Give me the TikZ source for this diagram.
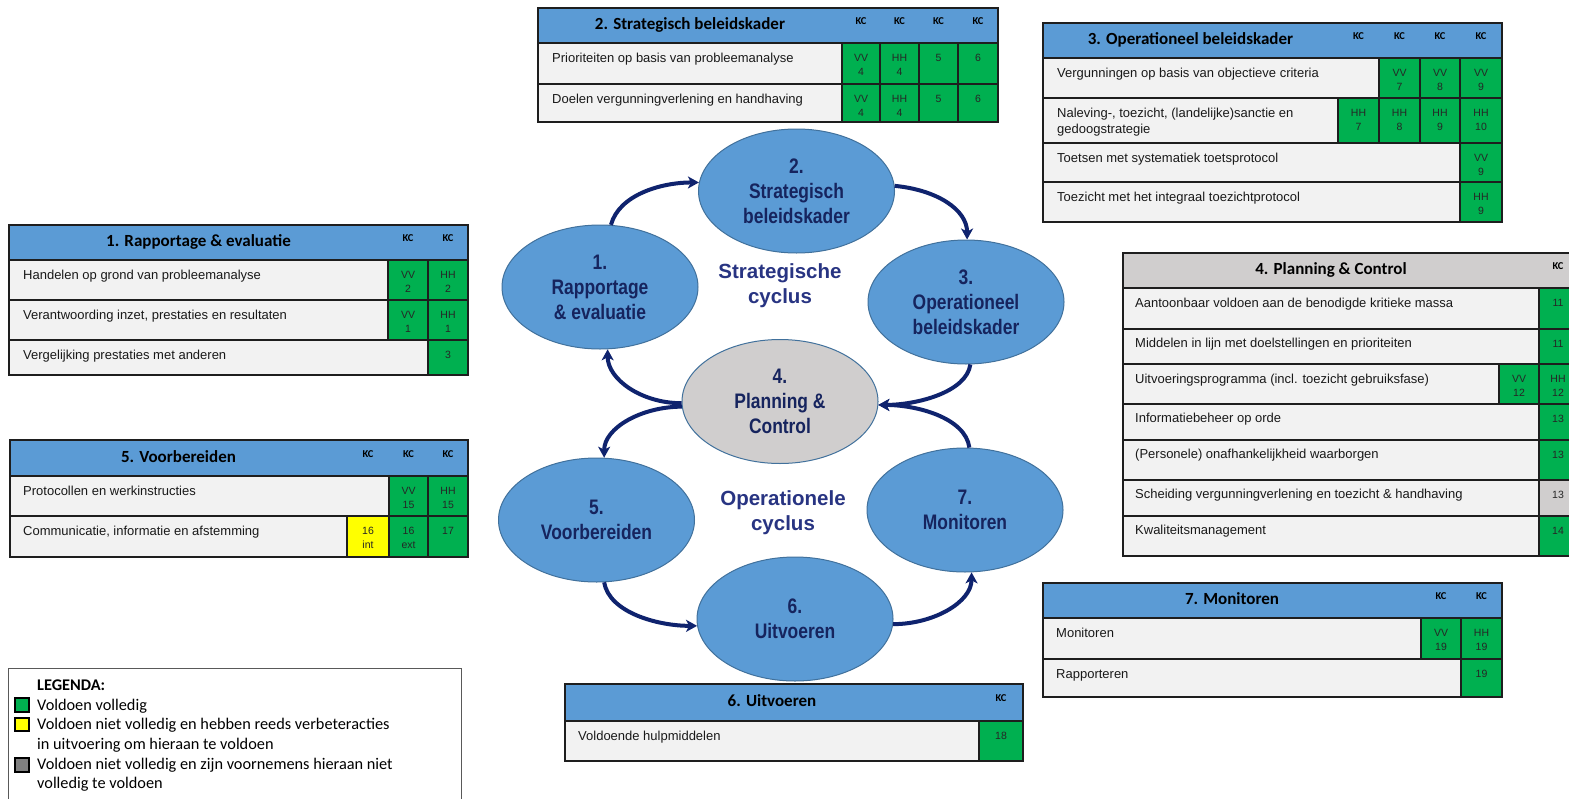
\documentclass[tikz,border=0pt]{standalone}
\usepackage{fontspec}
\setmainfont{Liberation Sans}
\newfontfamily\calibrifam{Carlito}
\newfontfamily\narrowfam[FakeStretch=0.83]{Liberation Sans}
\usetikzlibrary{shapes.geometric,arrows.meta}
\definecolor{hdrblue}{RGB}{91,155,213}
\definecolor{rowgray}{RGB}{242,242,242}
\definecolor{kgreen}{RGB}{0,176,80}
\definecolor{kyellow}{RGB}{255,255,0}
\definecolor{cellgray}{RGB}{208,206,206}
\definecolor{bordc}{RGB}{30,30,30}
\definecolor{ellblue}{RGB}{91,155,213}
\definecolor{ellborder}{RGB}{65,113,156}
\definecolor{elltext}{RGB}{22,36,94}
\definecolor{arrownavy}{RGB}{15,35,110}
\definecolor{cyclabel}{RGB}{40,52,130}
\definecolor{leggray}{RGB}{128,128,128}
\newcommand\tabhfont{\calibrifam\bfseries\fontsize{17}{20}\selectfont}
\newcommand\tabkcfont{\calibrifam\bfseries\fontsize{10.5}{12}\selectfont}
\newcommand\tabbodyfont{\fontsize{13}{15}\selectfont}
\newcommand\tabcellfont{\fontsize{10.5}{12}\selectfont}
\newcommand\ellfont{\narrowfam\bfseries\fontsize{21}{25}\selectfont}
\newcommand\cycfont{\bfseries\fontsize{20.5}{25}\selectfont}
\newcommand\legfont{\calibrifam\fontsize{16.3}{20}\selectfont}
\newcommand\crect[5]{\path[#1] (#2,#3) rectangle (#4,#5);}
\newcommand\rtext[4]{\node[rowtext] (#1) at (#2,#3) {#4};}
\newcommand\cval[5]{\node[celltext] (#1a) at (#2,#3+18.5) {#4};\node[celltext] (#1b) at (#2,#3+32.5) {#5};}
\newcommand\cone[4]{\node[celltext] (#1) at (#2,#3+18.5) {#4};}
\newcommand\kclab[3]{\node[kclabel] (#1) at (#2,#3) {KC};}
\tikzset{
 hdr/.style={fill=hdrblue, draw=bordc, line width=1.6pt},
 hdrg/.style={fill=cellgray, draw=bordc, line width=1.6pt},
 rowc/.style={fill=rowgray, draw=bordc, line width=1.6pt},
 grn/.style={fill=kgreen, draw=bordc, line width=1.6pt},
 ylw/.style={fill=kyellow, draw=bordc, line width=1.6pt},
 gry/.style={fill=cellgray, draw=bordc, line width=1.6pt},
 htitle/.style={font=\tabhfont, inner sep=0, anchor=base},
 kclabel/.style={font=\tabkcfont, inner sep=0, anchor=base},
 rowtext/.style={font=\tabbodyfont, inner sep=0, anchor=base west, text=black!90},
 celltext/.style={font=\tabcellfont, inner sep=0, anchor=base, text=black!85},
 phase/.style={ellipse, draw=ellborder, line width=1pt, fill=ellblue, minimum width=196pt, minimum height=124pt, inner sep=0pt, align=center, text=elltext, font=\ellfont},
 phasegray/.style={phase, fill=cellgray},
 cyc/.style={align=center, text=cyclabel, font=\cycfont, inner sep=0pt},
 cycarrow/.style={draw=arrownavy, line width=4pt, -{Stealth[length=11pt,width=12pt,inset=3pt]}},
 legtext/.style={font=\legfont, inner sep=0pt, anchor=base west},
 legsq/.style={draw=black, line width=1.3pt},
}
\begin{document}
\begin{tikzpicture}[x=1pt,y=-1pt]
\useasboundingbox (0,0) rectangle (1569,798);
\clip (0,0) rectangle (1569,798);
\fill[white] (0,0) rectangle (1569,798);

% ===== Table 1 =====
\crect{hdr}{9}{225}{468}{260}
\node[htitle] (t1h) at (198.5,246) {1. Rapportage \& evaluatie};
\kclab{t1k1}{408}{241}\kclab{t1k2}{448}{241}
\crect{rowc}{9}{260}{388}{300}\crect{grn}{388}{260}{428}{300}\crect{grn}{428}{260}{468}{300}
\rtext{t1r1}{23}{279.5}{Handelen op grond van probleemanalyse}
\cval{t1r1c1}{408}{260}{VV}{2}\cval{t1r1c2}{448}{260}{HH}{2}
\crect{rowc}{9}{300}{388}{340}\crect{grn}{388}{300}{428}{340}\crect{grn}{428}{300}{468}{340}
\rtext{t1r2}{23}{319.5}{Verantwoording inzet, prestaties en resultaten}
\cval{t1r2c1}{408}{300}{VV}{1}\cval{t1r2c2}{448}{300}{HH}{1}
\crect{rowc}{9}{340}{428}{375}\crect{grn}{428}{340}{468}{375}
\rtext{t1r3}{23}{359.5}{Vergelijking prestaties met anderen}
\cone{t1r3c1}{448}{340}{3}

% ===== Table 2 =====
\crect{hdr}{538}{8}{998}{43}
\node[htitle] (t2h) at (690,29) {2. Strategisch beleidskader};
\kclab{t2k1}{861}{24}\kclab{t2k2}{899.5}{24}\kclab{t2k3}{938.5}{24}\kclab{t2k4}{978}{24}
\crect{rowc}{538}{43}{842}{84}\crect{grn}{842}{43}{880}{84}\crect{grn}{880}{43}{919}{84}\crect{grn}{919}{43}{958}{84}\crect{grn}{958}{43}{998}{84}
\rtext{t2r1}{552}{62.5}{Prioriteiten op basis van probleemanalyse}
\cval{t2r1c1}{861}{43}{VV}{4}\cval{t2r1c2}{899.5}{43}{HH}{4}\cone{t2r1c3}{938.5}{43}{5}\cone{t2r1c4}{978}{43}{6}
\crect{rowc}{538}{84}{842}{122}\crect{grn}{842}{84}{880}{122}\crect{grn}{880}{84}{919}{122}\crect{grn}{919}{84}{958}{122}\crect{grn}{958}{84}{998}{122}
\rtext{t2r2}{552}{103.5}{Doelen vergunningverlening en handhaving}
\cval{t2r2c1}{861}{84}{VV}{4}\cval{t2r2c2}{899.5}{84}{HH}{4}\cone{t2r2c3}{938.5}{84}{5}\cone{t2r2c4}{978}{84}{6}

% ===== Table 3 =====
\crect{hdr}{1043}{23}{1502}{58}
\node[htitle] (t3h) at (1190.5,44) {3. Operationeel beleidskader};
\kclab{t3k1}{1358.5}{39}\kclab{t3k2}{1399.5}{39}\kclab{t3k3}{1440}{39}\kclab{t3k4}{1481}{39}
\crect{rowc}{1043}{58}{1379}{98}\crect{grn}{1379}{58}{1420}{98}\crect{grn}{1420}{58}{1460}{98}\crect{grn}{1460}{58}{1502}{98}
\rtext{t3r1}{1057}{77.5}{Vergunningen op basis van objectieve criteria}
\cval{t3r1c1}{1399.5}{58}{VV}{7}\cval{t3r1c2}{1440}{58}{VV}{8}\cval{t3r1c3}{1481}{58}{VV}{9}
\crect{rowc}{1043}{98}{1338}{143}\crect{grn}{1338}{98}{1379}{143}\crect{grn}{1379}{98}{1420}{143}\crect{grn}{1420}{98}{1460}{143}\crect{grn}{1460}{98}{1502}{143}
\rtext{t3r2a}{1057}{117.5}{Naleving-, toezicht, (landelijke)sanctie en}
\rtext{t3r2b}{1057}{133}{gedoogstrategie}
\cval{t3r2c1}{1358.5}{98}{HH}{7}\cval{t3r2c2}{1399.5}{98}{HH}{8}\cval{t3r2c3}{1440}{98}{HH}{9}\cval{t3r2c4}{1481}{98}{HH}{10}
\crect{rowc}{1043}{143}{1460}{182}\crect{grn}{1460}{143}{1502}{182}
\rtext{t3r3}{1057}{162.5}{Toetsen met systematiek toetsprotocol}
\cval{t3r3c1}{1481}{143}{VV}{9}
\crect{rowc}{1043}{182}{1460}{222}\crect{grn}{1460}{182}{1502}{222}
\rtext{t3r4}{1057}{201.5}{Toezicht met het integraal toezichtprotocol}
\cval{t3r4c1}{1481}{182}{HH}{9}

% ===== Table 4 =====
\crect{hdrg}{1123}{253}{1580}{288}
\node[htitle] (t4h) at (1331,274) {4. Planning \& Control};
\kclab{t4k1}{1558}{269}
\crect{rowc}{1123}{288}{1539}{329}\crect{grn}{1539}{288}{1580}{329}
\rtext{t4r1}{1135}{307.5}{Aantoonbaar voldoen aan de benodigde kritieke massa}
\cone{t4r1c1}{1558}{288}{11}
\crect{rowc}{1123}{329}{1539}{364}\crect{grn}{1539}{329}{1580}{364}
\rtext{t4r2}{1135}{347.5}{Middelen in lijn met doelstellingen en prioriteiten}
\cone{t4r2c1}{1558}{329}{11}
\crect{rowc}{1123}{364}{1499}{404}\crect{grn}{1499}{364}{1539}{404}\crect{grn}{1539}{364}{1580}{404}
\rtext{t4r3}{1135}{383.5}{Uitvoeringsprogramma (incl. toezicht gebruiksfase)}
\cval{t4r3c1}{1519}{364}{VV}{12}\cval{t4r3c2}{1558}{364}{HH}{12}
\crect{rowc}{1123}{404}{1539}{440}\crect{grn}{1539}{404}{1580}{440}
\rtext{t4r4}{1135}{422.5}{Informatiebeheer op orde}
\cone{t4r4c1}{1558}{404}{13}
\crect{rowc}{1123}{440}{1539}{480}\crect{grn}{1539}{440}{1580}{480}
\rtext{t4r5}{1135}{458.5}{(Personele) onafhankelijkheid waarborgen}
\cone{t4r5c1}{1558}{440}{13}
\crect{rowc}{1123}{480}{1539}{516}\crect{gry}{1539}{480}{1580}{516}
\rtext{t4r6}{1135}{498.5}{Scheiding vergunningverlening en toezicht \& handhaving}
\cone{t4r6c1}{1558}{480}{13}
\crect{rowc}{1123}{516}{1539}{556}\crect{grn}{1539}{516}{1580}{556}
\rtext{t4r7}{1135}{534.5}{Kwaliteitsmanagement}
\cone{t4r7c1}{1558}{516}{14}

% ===== Table 5 =====
\crect{hdr}{10}{440}{468}{476}
\node[htitle] (t5h) at (178.5,462) {5. Voorbereiden};
\kclab{t5k1}{368}{457}\kclab{t5k2}{408.5}{457}\kclab{t5k3}{448}{457}
\crect{rowc}{10}{476}{389}{516}\crect{grn}{389}{476}{428}{516}\crect{grn}{428}{476}{468}{516}
\rtext{t5r1}{23}{495.5}{Protocollen en werkinstructies}
\cval{t5r1c1}{408.5}{476}{VV}{15}\cval{t5r1c2}{448}{476}{HH}{15}
\crect{rowc}{10}{516}{347}{557}\crect{ylw}{347}{516}{389}{557}\crect{grn}{389}{516}{428}{557}\crect{grn}{428}{516}{468}{557}
\rtext{t5r2}{23}{535.5}{Communicatie, informatie en afstemming}
\cval{t5r2c1}{368}{516}{16}{int}\cval{t5r2c2}{408.5}{516}{16}{ext}\cone{t5r2c3}{448}{516}{17}

% ===== Table 6 =====
\crect{hdr}{565}{684}{1023}{721}
\node[htitle] (t6h) at (772,706) {6. Uitvoeren};
\kclab{t6k1}{1001}{701}
\crect{rowc}{565}{721}{979}{761}\crect{grn}{979}{721}{1023}{761}
\rtext{t6r1}{578}{740.5}{Voldoende hulpmiddelen}
\cone{t6r1c1}{1001}{721}{18}

% ===== Table 7 =====
\crect{hdr}{1043}{583}{1502}{618}
\node[htitle] (t7h) at (1232,604) {7. Monitoren};
\kclab{t7k1}{1441}{599}\kclab{t7k2}{1481.5}{599}
\crect{rowc}{1043}{618}{1421}{659}\crect{grn}{1421}{618}{1461}{659}\crect{grn}{1461}{618}{1502}{659}
\rtext{t7r1}{1056}{637.5}{Monitoren}
\cval{t7r1c1}{1441}{618}{VV}{19}\cval{t7r1c2}{1481.5}{618}{HH}{19}
\crect{rowc}{1043}{659}{1461}{697}\crect{grn}{1461}{659}{1502}{697}
\rtext{t7r2}{1056}{678.5}{Rapporteren}
\cone{t7r2c1}{1481.5}{659}{19}

% ===== Legend =====
\draw[draw=black!65, line width=1pt, fill=white] (8,668) rectangle (461,810);
\node[legtext, font=\legfont\bfseries] (legh) at (37,690) {LEGENDA:};
\path[legsq, fill=kgreen] (15,698) rectangle (29,712);
\node[legtext] (leg1) at (37,710) {Voldoen volledig};
\path[legsq, fill=kyellow] (15,718) rectangle (29,731);
\node[legtext] (leg2a) at (37,729.5) {Voldoen niet volledig en hebben reeds verbeteracties};
\node[legtext] (leg2b) at (37,749) {in uitvoering om hieraan te voldoen};
\path[legsq, fill=leggray] (15,758) rectangle (29,772);
\node[legtext] (leg3a) at (37,769) {Voldoen niet volledig en zijn voornemens hieraan niet};
\node[legtext] (leg3b) at (37,788.5) {volledig te voldoen};

% ===== Cycle =====
\node[phase] (e1) at (600,287) {1.\\Rapportage\\\& evaluatie};
\node[phase] (e2) at (796.5,191) {2.\\Strategisch\\beleidskader};
\node[phase] (e3) at (966,302) {3.\\Operationeel\\beleidskader};
\node[phasegray] (e4) at (780,401.5) {4.\\Planning \&\\Control};
\node[phase] (e5) at (596.5,520) {5.\\Voorbereiden};
\node[phase] (e6) at (795,619) {6.\\Uitvoeren};
\node[phase] (e7) at (965,510) {7.\\Monitoren};
\node[cyc] (strat) at (780,286) {Strategische\\cyclus};
\node[cyc] (oper) at (783,513) {Operationele\\cyclus};

\draw[cycarrow] (e1.80) .. controls +(8,-30) and +(-38,0) .. (e2.175);
\draw[cycarrow] (e2.3) .. controls +(42,4) and +(0,-30) .. (e3.89);
\draw[cycarrow] (e3.-86) .. controls +(-4,28) and +(38,0) .. (e4.-2);
\draw[cycarrow] (e7.86) .. controls +(-4,-30) and +(38,0) .. (e4.-2);
\draw[cycarrow] (e4.181) .. controls +(-40,0) and +(0,30) .. (e1.-83);
\draw[cycarrow] (e4.183) .. controls +(-40,0) and +(0,-30) .. (e5.83);
\draw[cycarrow] (e5.-83) .. controls +(5,30) and +(-40,0) .. (e6.184);
\draw[cycarrow] (e6.-3) .. controls +(40,0) and +(0,30) .. (e7.-84);
\end{tikzpicture}
\end{document}
